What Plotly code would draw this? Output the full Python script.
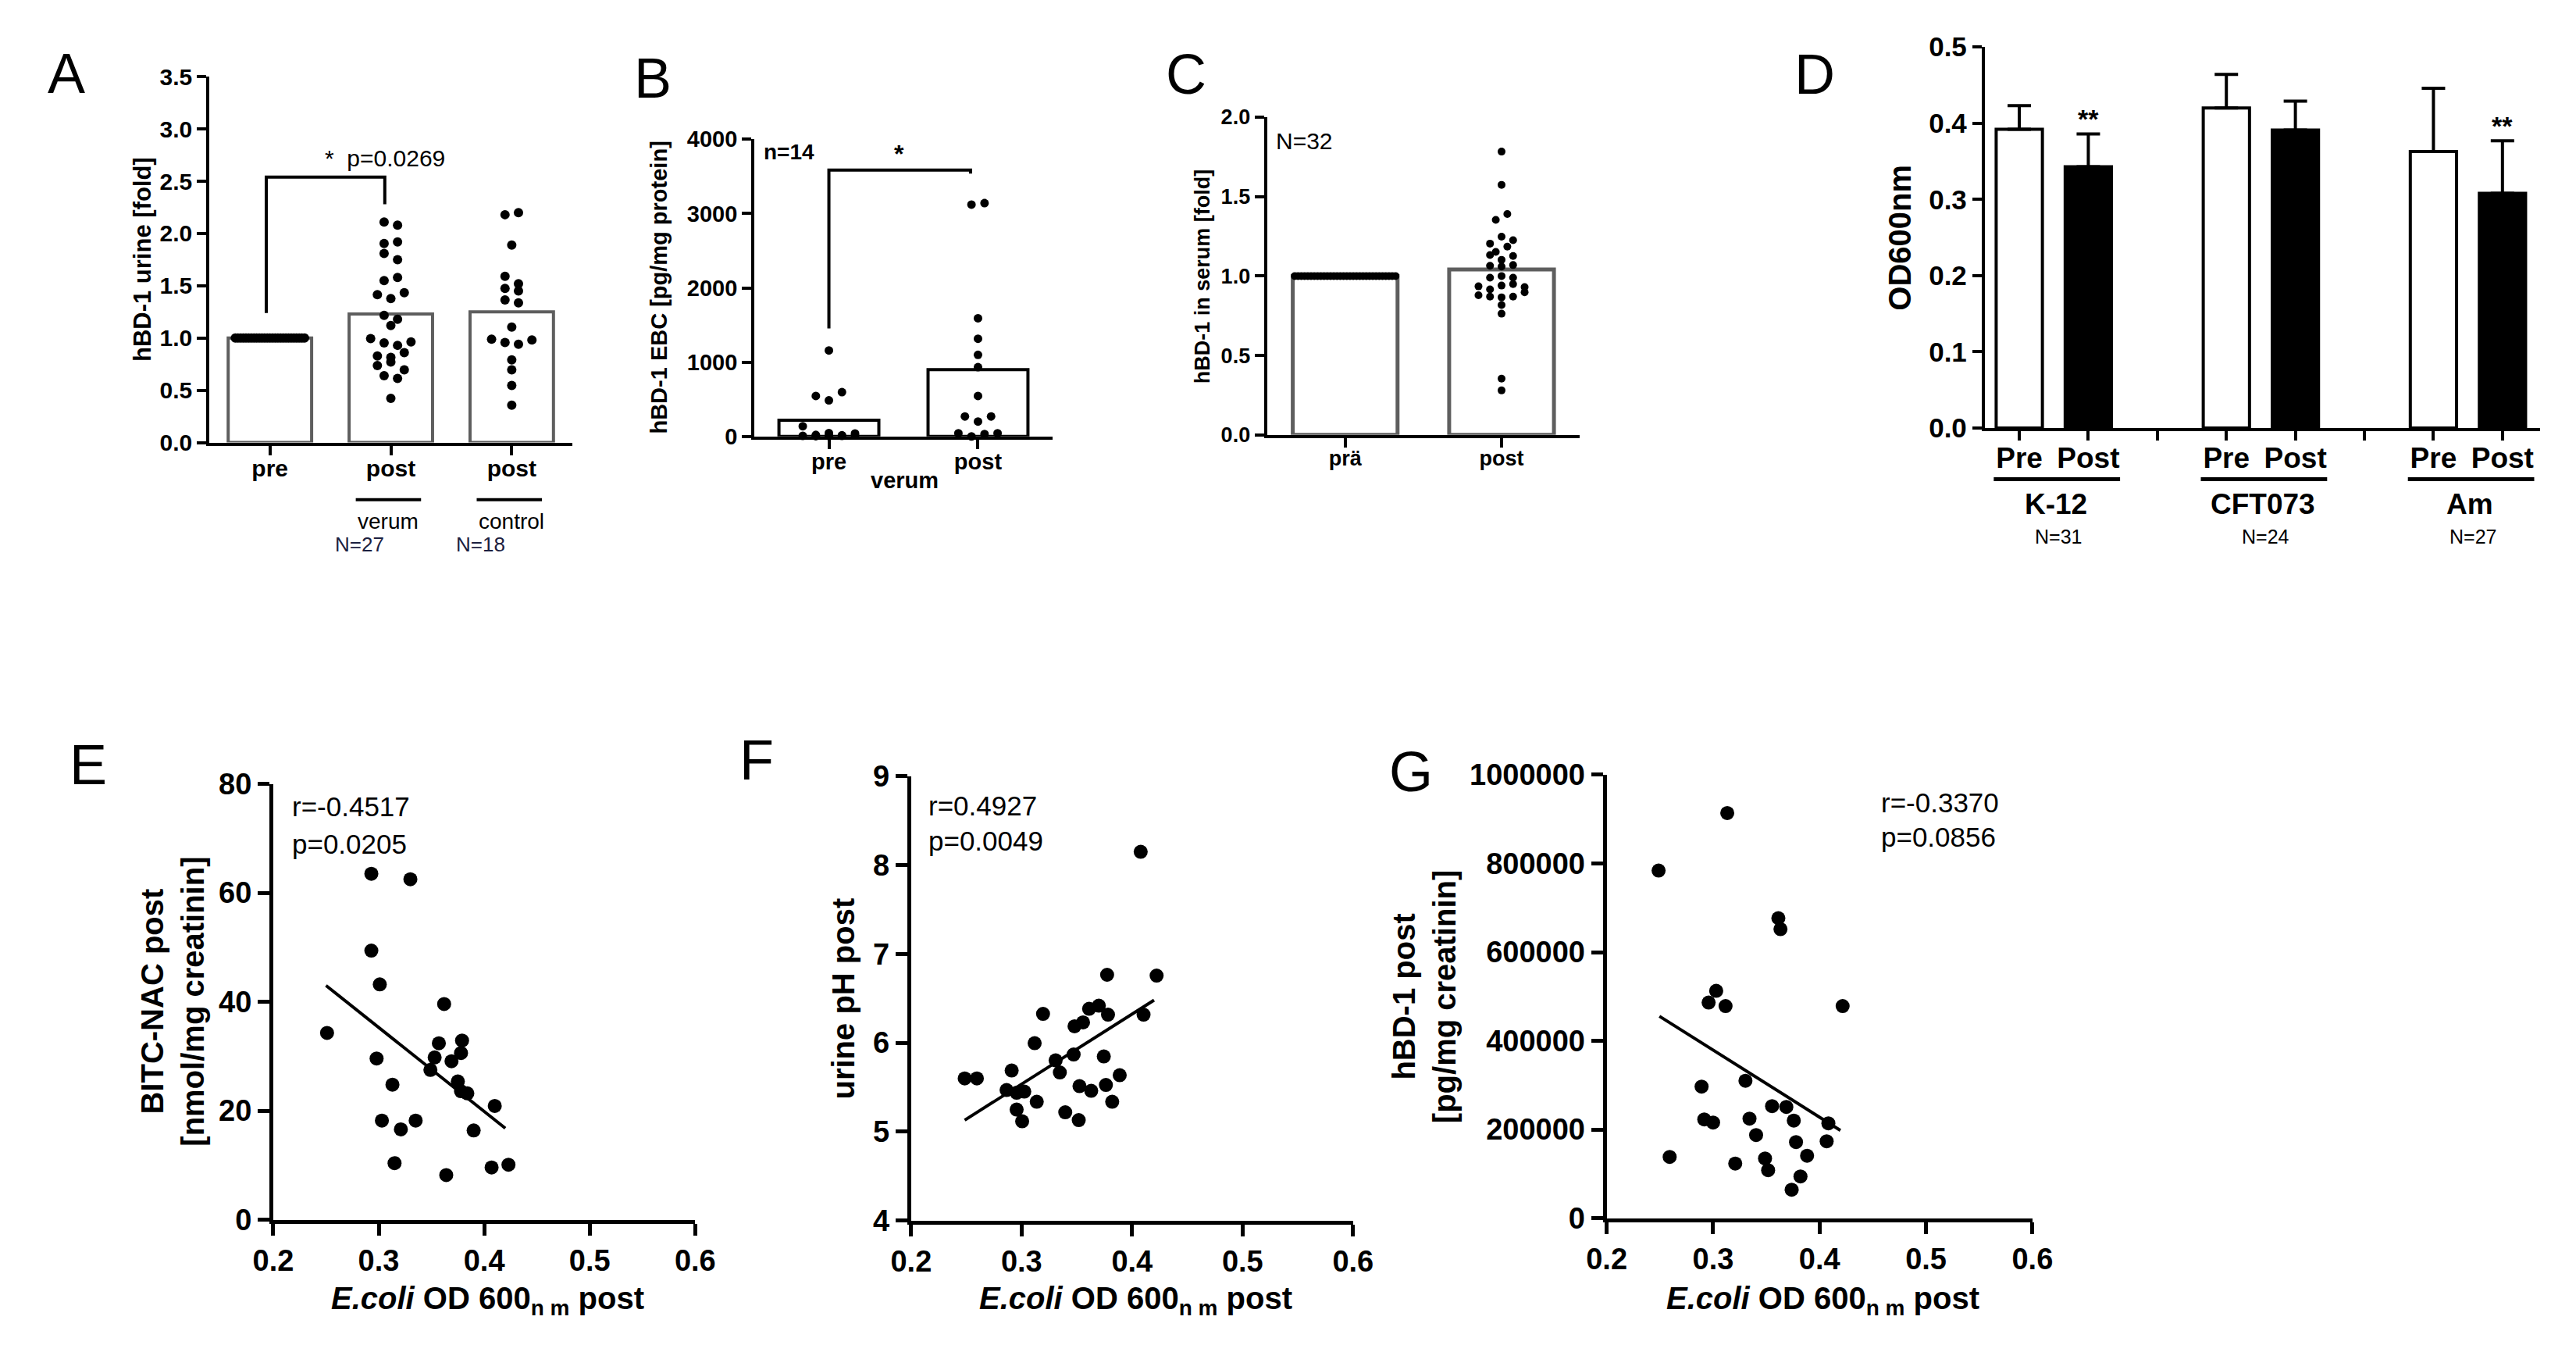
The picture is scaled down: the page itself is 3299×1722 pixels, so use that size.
import plotly.graph_objects as go

W, H = 3299, 1722
FONT = "Liberation Sans, Arial, Helvetica, sans-serif"

# ---------------- DATA ----------------
# Panel A
a_categories = ["pre", "post", "post"]
a_bar_values = [1.0, 1.23, 1.25]
a_pre = [1.0, 1.0, 1.0, 1.0, 1.0, 1.0, 1.0, 1.0, 1.0, 1.0, 1.0, 1.0, 1.0, 1.0,
         1.0, 1.0, 1.0, 1.0, 1.0, 1.0, 1.0, 1.0, 1.0, 1.0, 1.0, 1.0, 1.0]
a_verum = [2.11, 2.08, 1.905, 1.92, 1.81, 1.75, 1.55, 1.58, 1.415, 1.377, 1.434,
           1.216, 1.18, 1.12, 0.995, 0.954, 0.93, 0.963, 0.828, 0.815, 0.86,
           0.736, 0.77, 0.695, 0.64, 0.613, 0.423]
a_control = [2.18, 2.20, 1.89, 1.59, 1.475, 1.52, 1.45, 1.364, 1.336, 1.105,
             0.989, 0.957, 0.94, 0.982, 0.79, 0.695, 0.546, 0.357]
a_bracket = [1.24, 2.54, 2.28]
a_sig_text = "*  p=0.0269"
a_groups = ["verum", "control"]
a_n = ["N=27", "N=18"]

# Panel B
b_categories = ["pre", "post"]
b_bar_values = [217, 900]
b_pre = [1157, 545, 486, 596, 138, 20, 8, 4, 45, 6, 15, 8, 12, 40]
b_post = [3120, 3140, 1591, 1315, 1098, 932, 545, 269, 201, 269, 43, 0, 32, 43]
b_bracket = [1453, 3586, 3538]

# Panel C
c_categories = ["prä", "post"]
c_bar_values = [1.0, 1.041]
c_pre = [1.0, 1.0, 1.0, 1.0, 1.0, 1.0, 1.0, 1.0, 1.0, 1.0, 1.0, 1.0, 1.0, 1.0, 1.0, 1.0,
         1.0, 1.0, 1.0, 1.0, 1.0, 1.0, 1.0, 1.0, 1.0, 1.0, 1.0, 1.0, 1.0, 1.0, 1.0, 1.0]
c_post = [1.783, 1.574, 1.353, 1.39, 1.204, 1.248, 1.226, 1.152, 1.185,
          1.132, 1.102, 1.126, 1.065, 1.06, 1.069, 0.99, 1.0, 0.99,
          0.935, 0.916, 0.94, 0.949, 0.931, 0.879, 0.87, 0.866, 0.87, 0.898,
          0.818, 0.763, 0.354, 0.28]

# Panel D
d_tick_labels = ["Pre", "Post", "Pre", "Post", "Pre", "Post"]
d_strains = ["K-12", "CFT073", "Am"]
d_n = ["N=31", "N=24", "N=27"]
d_pre_means = [0.392, 0.420, 0.363]
d_pre_err = [0.031, 0.044, 0.083]
d_post_means = [0.343, 0.391, 0.308]
d_post_err = [0.043, 0.038, 0.069]
d_post_sig = ["**", "", "**"]

# Panel E
e_x = [0.293, 0.330, 0.293, 0.301, 0.251, 0.362, 0.357, 0.379, 0.378, 0.353, 0.369,
       0.349, 0.298, 0.375, 0.378, 0.384, 0.313, 0.410, 0.303, 0.335, 0.321, 0.390,
       0.315, 0.364, 0.407, 0.423]
e_y = [63.5, 62.5, 49.4, 43.2, 34.3, 39.6, 32.4, 32.9, 30.6, 29.8, 29.1, 27.5, 29.6,
       25.4, 23.6, 23.2, 24.8, 20.9, 18.2, 18.2, 16.6, 16.4, 10.4, 8.2, 9.6, 10.1]
e_fit_x = [0.250, 0.420]
e_fit_y = [43.0, 16.8]
e_stats = ["r=-0.4517", "p=0.0205"]

# Panel F
f_x = [0.4078, 0.3774, 0.4222, 0.3194, 0.3611, 0.3699, 0.3782, 0.4104, 0.3479, 0.3556,
       0.3118, 0.3471, 0.3744, 0.3308, 0.3346, 0.291, 0.3888, 0.2485, 0.2595, 0.2864,
       0.2955, 0.3024, 0.3763, 0.3524, 0.3630, 0.3137, 0.382, 0.2955, 0.3395, 0.3005, 0.3517]
f_y = [8.15, 6.766, 6.757, 6.326, 6.383, 6.418, 6.317, 6.317, 6.186, 6.23,
       5.996, 5.869, 5.847, 5.803, 5.667, 5.689, 5.636, 5.60, 5.60, 5.469,
       5.438, 5.451, 5.526, 5.513, 5.46, 5.337, 5.337, 5.249, 5.218, 5.117, 5.13]
f_fit_x = [0.2485, 0.4199]
f_fit_y = [5.13, 6.48]
f_stats = ["r=0.4927", "p=0.0049"]

# Panel G
g_x = [0.3133, 0.2488, 0.3613, 0.3633, 0.3029, 0.2958, 0.3117, 0.4217, 0.2892, 0.3304,
       0.3554, 0.3688, 0.2917, 0.30, 0.3342, 0.3758, 0.4083, 0.3404, 0.3779, 0.4067,
       0.2592, 0.3883, 0.3488, 0.3208, 0.3517, 0.3821, 0.3738]
g_y = [913700, 784000, 676700, 652000, 512800, 486300, 478400, 478400, 296900, 310100,
       252900, 251100, 222900, 215900, 224700, 220300, 214100, 187700, 171800, 173600,
       138300, 141000, 134800, 123300, 108400, 94300, 64300]
g_fit_x = [0.2496, 0.4196]
g_fit_y = [455500, 198200]
g_stats = ["r=-0.3370", "p=0.0856"]

# ---------------- GEOMETRY (pixels) ----------------
GEOM = {
    'A': (238, 710, 71, 551),
    'B': (947, 1335, 153, 543),
    'C': (1614, 2021, 124, 541),
    'D': (2548, 3271, 32, 532),
    'E': (321, 870, 999, 1571),
    'F': (1151, 1726, 989, 1572),
    'G': (2056, 2610, 987, 1569),
}
XR = {'A': (-0.5, 2.5), 'B': (-0.5, 1.5), 'C': (-0.5, 1.5), 'D': (-0.5, 7.55),
      'E': (0.2, 0.6), 'F': (0.2, 0.6), 'G': (0.2, 0.6)}
YR = {'A': (0, 3.5), 'B': (0, 4000), 'C': (0, 2.0), 'D': (0, 0.5),
      'E': (0, 80), 'F': (4, 9), 'G': (0, 1000000)}
AX = {'A': '', 'B': '2', 'C': '3', 'D': '4', 'E': '5', 'F': '6', 'G': '7'}


def ppu(p):
    x0, x1, yt, yb = GEOM[p]
    return (x1 - x0) / (XR[p][1] - XR[p][0]), (yb - yt) / (YR[p][1] - YR[p][0])


def xpaper(p, xv):
    x0, x1, _, _ = GEOM[p]
    xr = XR[p]
    return (x0 + (xv - xr[0]) / (xr[1] - xr[0]) * (x1 - x0)) / W


def xpix(px):
    return px / W


def ypix(py):
    return 1 - py / H


def swarm_x(values, center, p, row_h, spacing, max_w):
    px_x, px_y = ppu(p)
    order = sorted(range(len(values)), key=lambda i: -values[i])
    rows = []
    for i in order:
        if rows and (values[rows[-1][0]] - values[i]) * px_y < row_h:
            rows[-1].append(i)
        else:
            rows.append([i])
    xs = [0.0] * len(values)
    for r in rows:
        r = sorted(r)
        n = len(r)
        sp = spacing if n < 2 else min(spacing, max_w / (n - 1))
        for k, i in enumerate(r):
            xs[i] = center + (k - (n - 1) / 2) * sp / px_x
    return xs


fig = go.Figure()
ann = []
shapes = []


def text(x, y, s, size, bold=False, xref='paper', yref='paper',
         xanchor='center', yanchor='middle', angle=0, color='black'):
    ann.append(dict(x=x, y=y, xref=xref, yref=yref, text=s, showarrow=False,
                    xanchor=xanchor, yanchor=yanchor, textangle=angle,
                    font=dict(family=FONT, size=size, color=color,
                              weight='bold' if bold else 'normal')))


def pline(x0, y0, x1, y1, width=4, color='black'):
    shapes.append(dict(type='line', xref='paper', yref='paper', x0=x0, y0=y0, x1=x1, y1=y1,
                       line=dict(color=color, width=width)))


def refs(p):
    return 'x' + AX[p], 'y' + AX[p]


def dots(p, xs, ys, size):
    xr, yr = refs(p)
    fig.add_trace(go.Scatter(x=xs, y=ys, mode='markers', xaxis=xr, yaxis=yr,
                             marker=dict(color='black', size=size, line=dict(width=0)),
                             cliponaxis=False, hoverinfo='skip'))


def bracket(p, xa, xb, ys, width=4):
    xr, yr = refs(p)
    path = f"M {xa},{ys[0]} L {xa},{ys[1]} L {xb},{ys[1]} L {xb},{ys[2]}"
    shapes.append(dict(type='path', path=path, xref=xr, yref=yr,
                       line=dict(color='black', width=width)))


def ytitle(px, p, s, size):
    yt, yb = GEOM[p][2], GEOM[p][3]
    text(xpix(px), ypix((yt + yb) / 2), s, size, bold=True, angle=-90)


GRAY = '#5e5e5e'
LETTER = 72

# ---------- Panel A ----------
xr, yr = refs('A')
fig.add_trace(go.Bar(x=list(range(len(a_categories))), y=a_bar_values, width=0.69,
                     xaxis=xr, yaxis=yr, marker=dict(color='white', line=dict(color=GRAY, width=4))))
for ci, vals in enumerate([a_pre, a_verum, a_control]):
    dots('A', swarm_x(vals, ci, 'A', 12, 17.5, 90), vals, 12)
bracket('A', -0.03, 0.95, a_bracket)
text(0.95, 2.72, a_sig_text, 30, xref=xr, yref=yr)
yb = GEOM['A'][3]
for gi, (g, n) in enumerate(zip(a_groups, a_n)):
    c = gi + 1
    pline(xpaper('A', c - 0.29), ypix(yb + 75), xpaper('A', c + 0.25), ypix(yb + 75))
    text(xpaper('A', c - 0.02 + 0.02 * gi), ypix(yb + 103), g, 28)
    text(xpaper('A', c - 0.26), ypix(yb + 134), n, 26, color='#1b2040')
ytitle(151, 'A', "hBD-1 urine [fold]", 31)
text(xpix(52), ypix(67), "A", LETTER)

# ---------- Panel B ----------
xr, yr = refs('B')
fig.add_trace(go.Bar(x=list(range(len(b_categories))), y=b_bar_values, width=0.67,
                     xaxis=xr, yaxis=yr, marker=dict(color='white', line=dict(color='black', width=4))))
for ci, vals in enumerate([b_pre, b_post]):
    dots('B', swarm_x(vals, ci, 'B', 12, 17, 92), vals, 11)
bracket('B', 0, 0.95, b_bracket)
text(0.47, 3805, "*", 32, bold=True, xref=xr, yref=yr)
text(-0.45, 3830, "n=14", 28, bold=True, xref=xr, yref=yr, xanchor='left')
text(xpaper('B', 0.51), ypix(GEOM['B'][3] + 58), "verum", 29, bold=True)
ytitle(822, 'B', "hBD-1 EBC [pg/mg protein]", 29)
text(xpix(815), ypix(73), "B", LETTER)

# ---------- Panel C ----------
xr, yr = refs('C')
fig.add_trace(go.Bar(x=list(range(len(c_categories))), y=c_bar_values, width=0.67,
                     xaxis=xr, yaxis=yr, marker=dict(color='white', line=dict(color=GRAY, width=5))))
for ci, vals in enumerate([c_pre, c_post]):
    dots('C', swarm_x(vals, ci, 'C', 10, 15, 131), vals, 10)
text(-0.455, 1.85, "N=32", 30, xref=xr, yref=yr, xanchor='left')
ytitle(1531, 'C', "hBD-1 in serum [fold]", 27)
text(xpix(1509), ypix(68), "C", LETTER)

# ---------- Panel D ----------
xr, yr = refs('D')
pre_x = [3 * i for i in range(len(d_strains))]
post_x = [3 * i + 1 for i in range(len(d_strains))]
fig.add_trace(go.Bar(x=pre_x, y=d_pre_means, width=0.67, xaxis=xr, yaxis=yr,
                     marker=dict(color='white', line=dict(color='black', width=4)),
                     error_y=dict(type='data', array=d_pre_err, arrayminus=[0] * 3, symmetric=False,
                                  color='black', thickness=4, width=15)))
fig.add_trace(go.Bar(x=post_x, y=d_post_means, width=0.67, xaxis=xr, yaxis=yr,
                     marker=dict(color='black', line=dict(color='black', width=4)),
                     error_y=dict(type='data', array=d_post_err, arrayminus=[0] * 3, symmetric=False,
                                  color='black', thickness=4, width=15)))
for i, s in enumerate(d_post_sig):
    if s:
        text(post_x[i], d_post_means[i] + d_post_err[i] + 0.02, s, 34, bold=True, xref=xr, yref=yr)
for i, (s, n) in enumerate(zip(d_strains, d_n)):
    c = 3 * i
    pline(xpaper('D', c - 0.37), ypix(599), xpaper('D', c + 1.46), ypix(599), width=5)
    text(xpaper('D', c + 0.53), ypix(632), s, 37, bold=True)
    text(xpaper('D', c + 0.57), ypix(674), n, 25)
ytitle(2438, 'D', "OD600nm", 40)
text(xpix(2327), ypix(68), "D", LETTER)

# ---------- Panels E, F, G ----------
XT = "<i>E.coli</i> OD 600<sub>n m</sub> post"
for p, xs, ys, fx, fy, st, yt_text, ytx, stat_x, stat_y, letter_pos in [
    ('E', e_x, e_y, e_fit_x, e_fit_y, e_stats, "BITC-NAC post<br>[nmol/mg creatinin]", 190,
     0.216, (75.9, 69.0), (80, 974)),
    ('F', f_x, f_y, f_fit_x, f_fit_y, f_stats, "urine pH post", 1063,
     0.214, (8.67, 8.27), (950, 968)),
    ('G', g_x, g_y, g_fit_x, g_fit_y, g_stats, "hBD-1 post<br>[pg/mg creatinin]", 1818,
     0.456, (938000, 859000), (1801, 983)),
]:
    xr, yr = refs(p)
    fig.add_trace(go.Scatter(x=fx, y=fy, mode='lines', xaxis=xr, yaxis=yr,
                             line=dict(color='black', width=4), hoverinfo='skip'))
    dots(p, xs, ys, 18)
    for s, yv in zip(st, stat_y):
        text(stat_x, yv, s, 35, xref=xr, yref=yr, xanchor='left')
    ytitle(ytx, p, yt_text, 40)
    text(xpaper(p, 0.403), ypix(1677), XT, 40, bold=True)
    text(xpix(letter_pos[0]), ypix(letter_pos[1]), p, LETTER)


# ---------------- AXES ----------------
def axstyle(size, lw=4, tl=12):
    return dict(showline=True, linecolor='black', linewidth=lw, ticks='outside', ticklen=tl,
                tickwidth=lw, tickcolor='black', showgrid=False, zeroline=False,
                tickfont=dict(family=FONT, size=size, color='black', weight='bold'),
                fixedrange=True)


layout_axes = {}
cat_ticks = {
    'A': (list(range(3)), a_categories, 30),
    'B': (list(range(2)), b_categories, 29),
    'C': (list(range(2)), c_categories, 27),
    'D': ([0, 1, 3, 4, 6, 7], d_tick_labels, 37),
}
ytick = {
    'A': dict(dtick=0.5, tickformat='.1f', size=30),
    'B': dict(dtick=1000, tickformat='d', size=29),
    'C': dict(dtick=0.5, tickformat='.1f', size=27),
    'D': dict(dtick=0.1, tickformat='.1f', size=35),
    'E': dict(dtick=20, tickformat='d', size=38),
    'F': dict(dtick=1, tickformat='d', size=38),
    'G': dict(dtick=200000, tickformat='d', size=38),
}
for p in 'ABCDEFG':
    x0, x1, yt, ybb = GEOM[p]
    suf = AX[p]
    big = p in 'EFG'
    lw = 5 if big else 4
    tl = 15 if big else 12
    xa = axstyle(38, lw, tl)
    xa.update(domain=[x0 / W, x1 / W], range=list(XR[p]), anchor='y' + suf)
    if p in cat_ticks:
        tv, tt, sz = cat_ticks[p]
        xa.update(tickmode='array', tickvals=tv, ticktext=tt, ticklabelstandoff=-9,
                  tickfont=dict(family=FONT, size=sz, color='black', weight='bold'))
        if p == 'D':
            xa.update(minor=dict(tickvals=[2, 5], ticks='outside', ticklen=tl,
                                 tickwidth=lw, tickcolor='black', showgrid=False))
    else:
        xa.update(tickmode='linear', tick0=0.2, dtick=0.1, tickformat='.1f')
    ya = axstyle(ytick[p]['size'], lw, tl)
    ya.update(domain=[1 - ybb / H, 1 - yt / H], range=list(YR[p]), anchor='x' + suf,
              tickmode='linear', tick0=YR[p][0], dtick=ytick[p]['dtick'],
              tickformat=ytick[p]['tickformat'])
    layout_axes['xaxis' + suf] = xa
    layout_axes['yaxis' + suf] = ya

fig.update_layout(width=W, height=H, margin=dict(l=0, r=0, t=0, b=0),
                  paper_bgcolor='white', plot_bgcolor='white', showlegend=False,
                  barmode='overlay', annotations=ann, shapes=shapes,
                  font=dict(family=FONT, color='black'), **layout_axes)

fig.write_html("out.html")
